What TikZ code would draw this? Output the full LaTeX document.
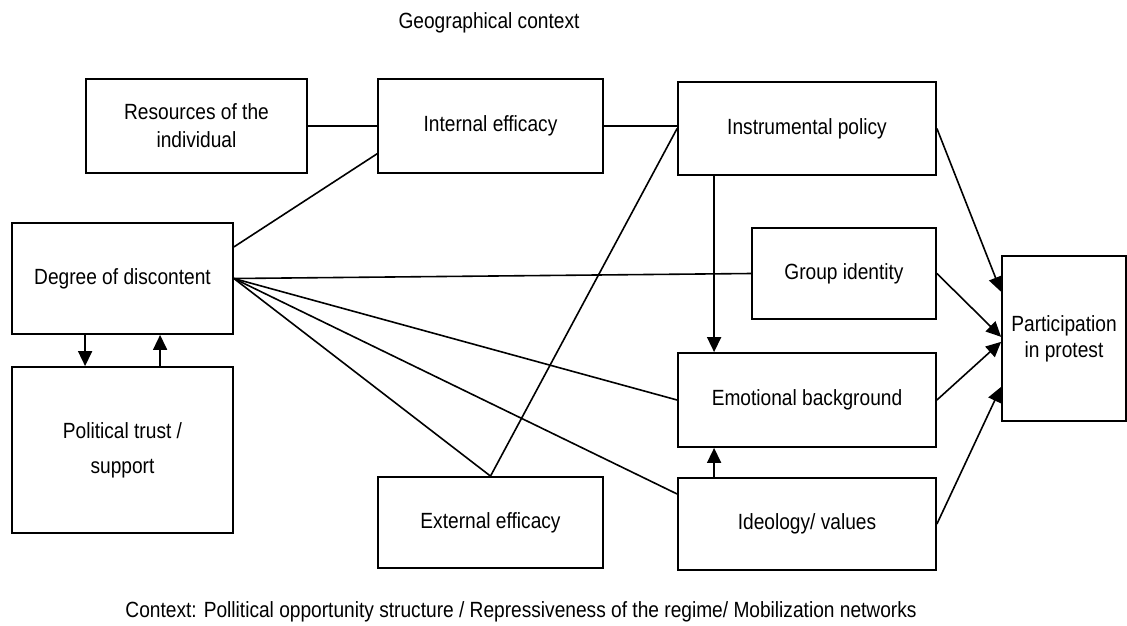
\documentclass[tikz,border=0pt]{standalone}
\usepackage{fontspec}
\setmainfont{Liberation Sans}[FakeStretch=0.87]
\usetikzlibrary{positioning,calc,arrows.meta}

\begin{document}
\begin{tikzpicture}[x=1pt, y=-1pt, font=\fontsize{22}{28}\selectfont,
	box/.style={draw, line width=1.8pt, rectangle, align=center, inner sep=2pt},
	link/.style={line width=1.6pt},
	arr/.style={link, -{Triangle[length=15pt, width=14pt]}}]
	\useasboundingbox (0,0) rectangle (1127,625);
	% boxes
	\node[box, minimum width=221pt, minimum height=94pt] (res) at (196.5,126) {Resources of the\\individual};
	\node[box, minimum width=225pt, minimum height=94pt] (inteff) at (490.5,126) {Internal efficacy};
	\node[box, minimum width=258pt, minimum height=93pt] (instr) at (807,128.5) {Instrumental policy};
	\node[box, minimum width=221pt, minimum height=111pt] (disc) at (122.5,278.5) {Degree of discontent};
	\node[box, minimum width=184pt, minimum height=91pt] (group) at (844,273.5) {Group identity};
	\node[box, minimum width=124pt, minimum height=165pt, font=\fontsize{22}{26}\selectfont] (part) at (1064,338.5) {Participation\\in protest};
	\node[box, minimum width=221pt, minimum height=166pt, font=\fontsize{22}{35}\selectfont] (trust) at (122.5,450) {Political trust /\\support};
	\node[box, minimum width=258pt, minimum height=94pt] (emot) at (807,400) {Emotional background};
	\node[box, minimum width=225pt, minimum height=91pt] (exteff) at (490.5,522.5) {External efficacy};
	\node[box, minimum width=258pt, minimum height=92pt] (ideo) at (807,524) {Ideology/ values};
	% context labels
	\node (geo) at (489,23) {Geographical context};
	\node (ctx) at (521,612) {Context: Pollitical opportunity structure / Repressiveness of the regime/ Mobilization networks};
	% plain links
	\draw[link] (res.east) -- (inteff.west);
	\draw[link] (inteff.east) -- (inteff.east -| instr.west);
	\draw[link] ($(disc.north east)!0.22!(disc.south east)$) -- ($(inteff.north west)!0.79!(inteff.south west)$);
	\draw[link] (disc.east) -- (group.west);
	\draw[link] (disc.east) -- (emot.west);
	\draw[link] (disc.east) -- ($(ideo.north west)!0.18!(ideo.south west)$);
	\draw[link] (disc.east) -- (exteff.north);
	\draw[link] (exteff.north) -- (instr.west);
	% arrows
	\draw[arr] ([xshift=37pt]instr.south west) -- ([xshift=37pt]emot.north west);
	\draw[arr] ([xshift=37pt]ideo.north west) -- ([xshift=37pt]emot.south west);
	\draw[arr] ([xshift=74pt]disc.south west) -- ([xshift=74pt]trust.north west);
	\draw[arr] ([xshift=149pt]trust.north west) -- ([xshift=149pt]disc.south west);
	\draw[arr] (instr.east) -- ($(part.north west)!0.22!(part.south west)$);
	\draw[arr] (group.east) -- ($(part.north west)!0.49!(part.south west)$);
	\draw[arr] (emot.east) -- ($(part.north west)!0.52!(part.south west)$);
	\draw[arr] (ideo.east) -- ($(part.north west)!0.79!(part.south west)$);
\end{tikzpicture}
\end{document}
